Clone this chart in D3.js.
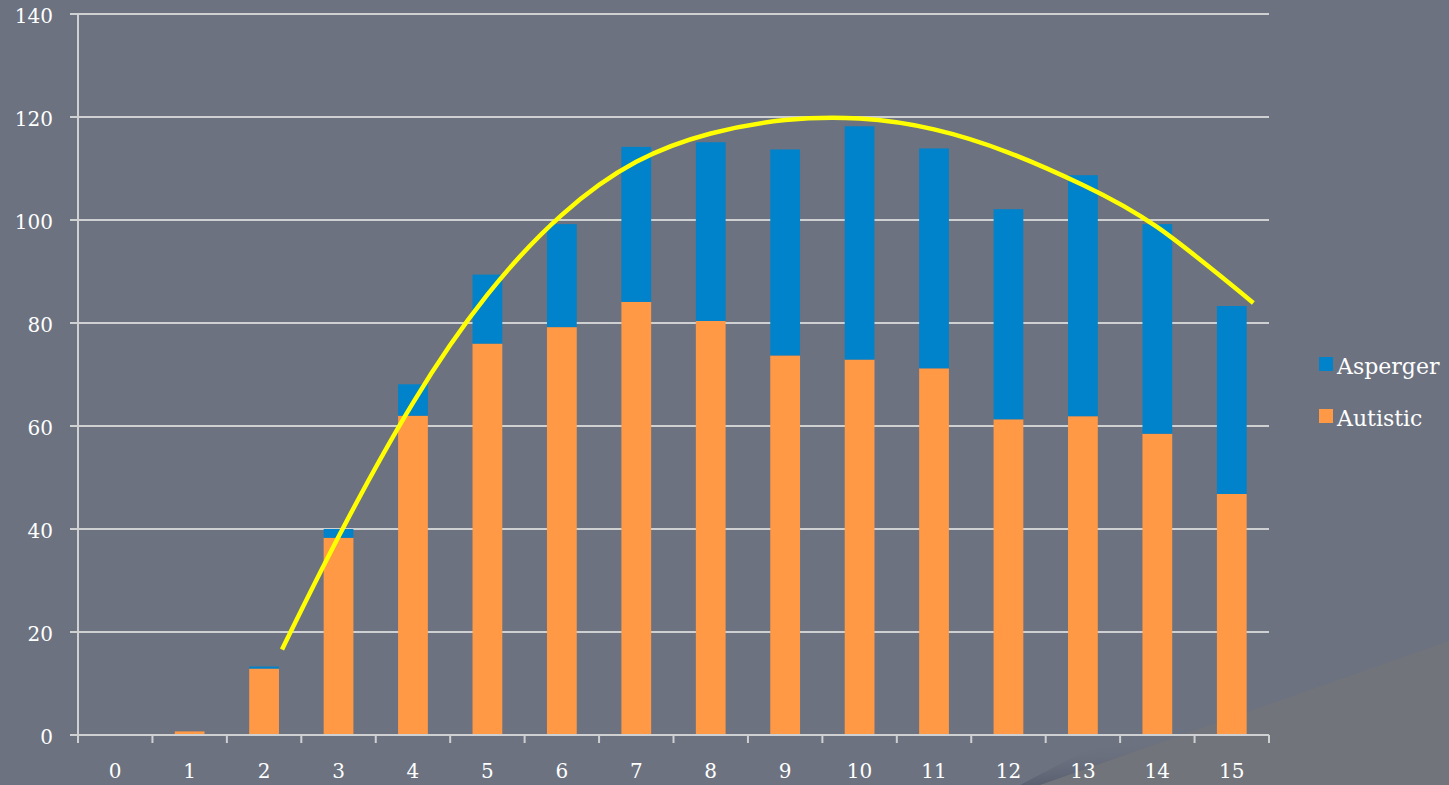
<!DOCTYPE html>
<html>
<head>
<meta charset="utf-8">
<script src="https://cdn.jsdelivr.net/npm/d3@7/dist/d3.min.js"></script>
<style>
  html, body { margin: 0; padding: 0; background: #6c7280; }
  svg { display: block; }
  text { font-family: "DejaVu Serif", "Liberation Serif", serif; fill: #ffffff; }
</style>
</head>
<body>
<svg id="chart" width="1449" height="785"></svg>
<script>
// ---- data ----
const categories = ["0","1","2","3","4","5","6","7","8","9","10","11","12","13","14","15"];
const autistic  = [0, 0.7, 12.9, 38.3, 62.0, 76.0, 79.2, 84.1, 80.4, 73.7, 72.9, 71.2, 61.3, 61.9, 58.5, 46.8];
const asperger  = [0, 0,   0.4,  1.7,  6.1,  13.4, 20.0, 30.1, 34.7, 40.0, 45.3, 42.7, 40.8, 46.8, 40.7, 36.5];
const yTicks    = [0, 20, 40, 60, 80, 100, 120, 140];
const seriesNames = ["Asperger", "Autistic"];
// trend line (x in category units, y in values)
const trendX = [2.24, 3.0, 4.0, 5.0, 6.0, 7.0, 8.0, 9.0, 10.0, 11.0, 12.0, 13.0, 14.0, 15.29];
const trendY = [16.6, 38.5, 64.5, 85.5, 101.0, 111.3, 116.8, 119.4, 119.7, 117.6, 113.1, 106.8, 98.6, 83.9];

(function () {
const W = 1449, H = 785;
const pLeft = 78, pRight = 1269, pTop = 14, pBottom = 735;
const colors = { Asperger: "#0083ca", Autistic: "#ff9945" };

const svg = d3.select("#chart");

// background decoration (lower right fold)
const defs = svg.append("defs");
const grad = defs.append("linearGradient").attr("id", "shade")
  .attr("x1", "0").attr("y1", "0").attr("x2", "0.12").attr("y2", "1");
grad.append("stop").attr("offset", "0.82").attr("stop-color", "#6c7280").attr("stop-opacity", 0);
grad.append("stop").attr("offset", "1").attr("stop-color", "#4f5566").attr("stop-opacity", 0.8);

svg.append("rect").attr("width", W).attr("height", H).attr("fill", "#6c7280");
svg.append("path")
  .attr("d", `M1449,${H} L1449,560 L1020,${H} Z`)
  .attr("fill", "url(#shade)").attr("opacity", 0.9);
svg.append("path")
  .attr("d", `M1040,${H} L1449,641 L1449,${H} Z`)
  .attr("fill", "#72747b");

// scales
const x = d3.scaleBand().domain(categories).range([pLeft, pRight])
  .paddingInner(0.6).paddingOuter(0.3);
const xLin = d3.scaleLinear().domain([-0.5, 15.5]).range([pLeft, pRight]);
const y = d3.scaleLinear().domain([0, 140]).range([pBottom, pTop]);

// gridlines
svg.append("g").selectAll("line").data(yTicks).join("line")
  .attr("x1", pLeft - 8).attr("x2", pRight)
  .attr("y1", d => y(d)).attr("y2", d => y(d))
  .attr("stroke", "#cfd0d2").attr("stroke-width", 2);

// y labels
svg.append("g").selectAll("text").data(yTicks).join("text")
  .attr("x", 53).attr("y", d => y(d) + 9)
  .attr("text-anchor", "end").attr("font-size", 20)
  .text(d => d);

// bars (stacked)
const stackData = categories.map((c, i) => ({ cat: c, Autistic: autistic[i], Asperger: asperger[i] }));
const layers = d3.stack().keys(["Autistic", "Asperger"])(stackData);
svg.append("g").selectAll("g").data(layers).join("g")
  .attr("fill", d => colors[d.key])
  .selectAll("rect").data(d => d).join("rect")
  .attr("x", d => x(d.data.cat))
  .attr("width", x.bandwidth())
  .attr("y", d => y(d[1]))
  .attr("height", d => Math.max(0, y(d[0]) - y(d[1])));

// axes lines
svg.append("line").attr("x1", pLeft).attr("x2", pLeft).attr("y1", pTop).attr("y2", pBottom)
  .attr("stroke", "#cfd0d2").attr("stroke-width", 2);
svg.append("line").attr("x1", pLeft).attr("x2", pRight).attr("y1", pBottom).attr("y2", pBottom)
  .attr("stroke", "#cfd0d2").attr("stroke-width", 2);
// x ticks at band boundaries
const boundaries = d3.range(categories.length + 1).map(i => xLin(i - 0.5));
svg.append("g").selectAll("line").data(boundaries).join("line")
  .attr("x1", d => d).attr("x2", d => d).attr("y1", pBottom).attr("y2", pBottom + 8)
  .attr("stroke", "#cfd0d2").attr("stroke-width", 2);
// x labels
svg.append("g").selectAll("text").data(categories).join("text")
  .attr("x", d => x(d) + x.bandwidth() / 2).attr("y", 778)
  .attr("text-anchor", "middle").attr("font-size", 20)
  .text(d => d);

// trend line
const line = d3.line().x(d => xLin(d[0])).y(d => y(d[1])).curve(d3.curveNatural);
svg.append("path").datum(trendX.map((v, i) => [v, trendY[i]]))
  .attr("d", line).attr("fill", "none")
  .attr("stroke", "#ffff00").attr("stroke-width", 4.5);

// legend
const legend = svg.append("g");
seriesNames.forEach((n, i) => {
  const ly = 357 + i * 52;
  legend.append("rect").attr("x", 1319).attr("y", ly).attr("width", 14).attr("height", 14)
    .attr("fill", colors[n]);
  legend.append("text").attr("x", 1337).attr("y", ly + 17).attr("font-size", 22).text(n);
});
})();
</script>
</body>
</html>
